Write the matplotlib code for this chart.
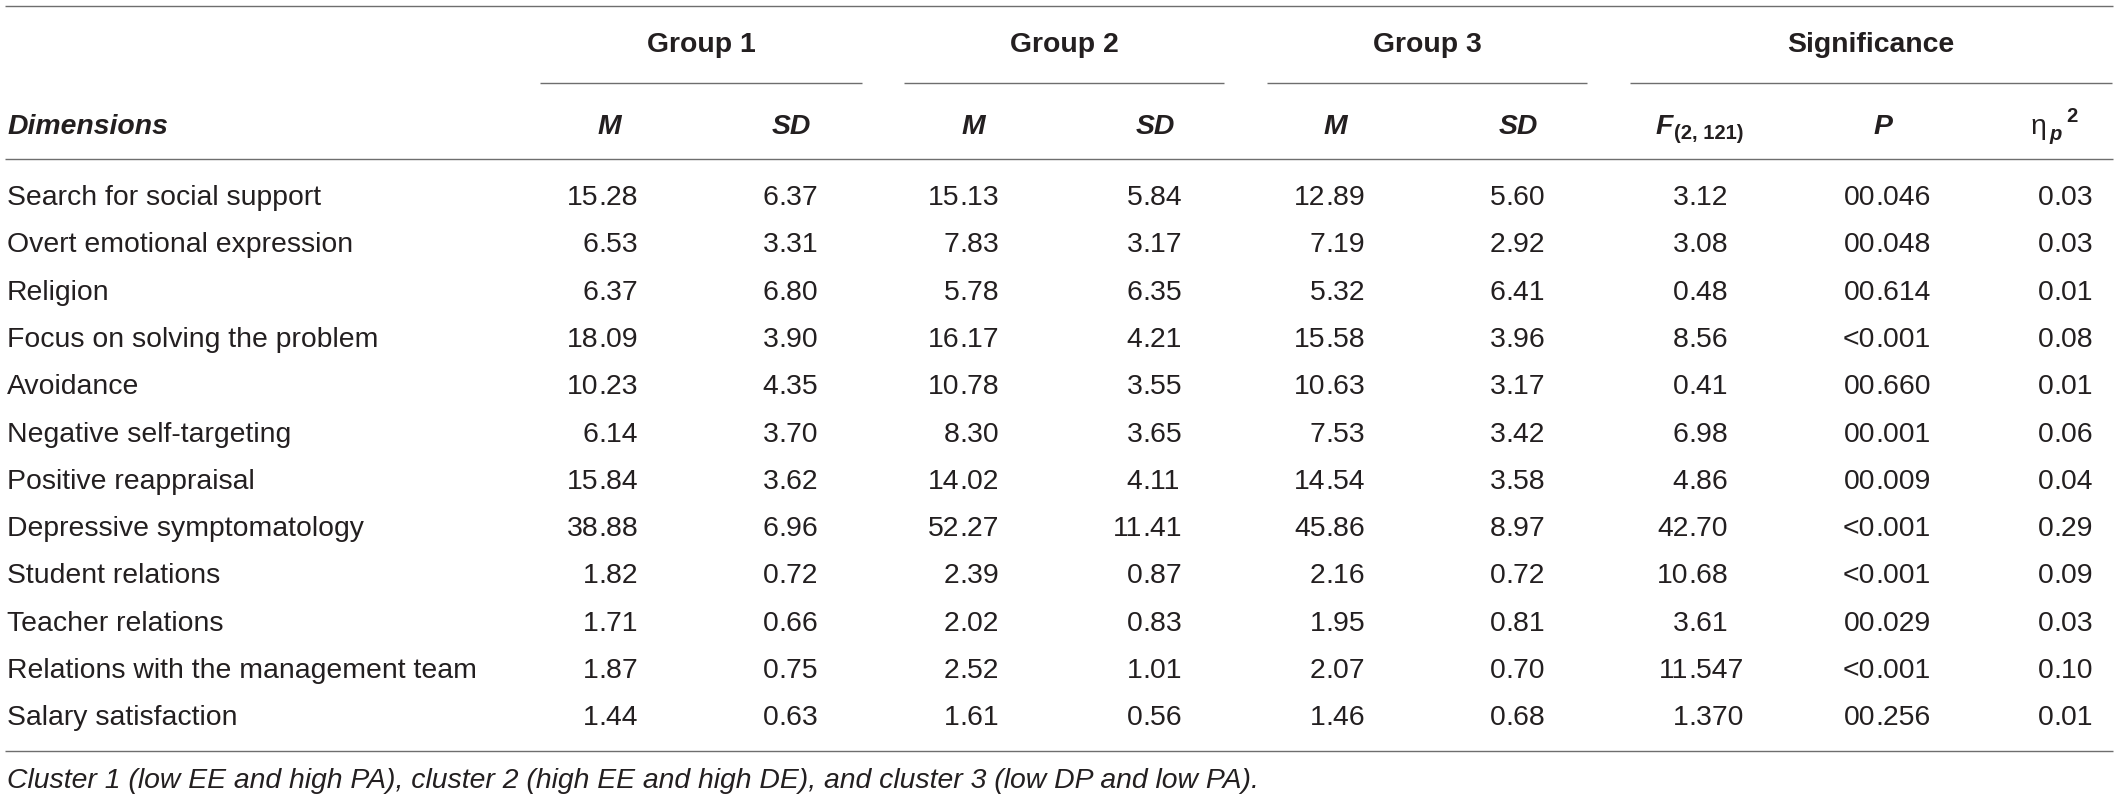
import matplotlib
matplotlib.use("Agg")
import matplotlib.pyplot as plt

# table content
dimensions = ["Search for social support", "Overt emotional expression", "Religion",
              "Focus on solving the problem", "Avoidance", "Negative self-targeting",
              "Positive reappraisal", "Depressive symptomatology", "Student relations",
              "Teacher relations", "Relations with the management team",
              "Salary satisfaction"]
g1_m = ["15.28", "6.53", "6.37", "18.09", "10.23", "6.14", "15.84", "38.88", "1.82", "1.71", "1.87", "1.44"]
g1_sd = ["6.37", "3.31", "6.80", "3.90", "4.35", "3.70", "3.62", "6.96", "0.72", "0.66", "0.75", "0.63"]
g2_m = ["15.13", "7.83", "5.78", "16.17", "10.78", "8.30", "14.02", "52.27", "2.39", "2.02", "2.52", "1.61"]
g2_sd = ["5.84", "3.17", "6.35", "4.21", "3.55", "3.65", "4.11", "11.41", "0.87", "0.83", "1.01", "0.56"]
g3_m = ["12.89", "7.19", "5.32", "15.58", "10.63", "7.53", "14.54", "45.86", "2.16", "1.95", "2.07", "1.46"]
g3_sd = ["5.60", "2.92", "6.41", "3.96", "3.17", "3.42", "3.58", "8.97", "0.72", "0.81", "0.70", "0.68"]
f_vals = ["3.12", "3.08", "0.48", "8.56", "0.41", "6.98", "4.86", "42.70", "10.68", "3.61", "11.547", "1.370"]
p_vals = ["00.046", "00.048", "00.614", "<0.001", "00.660", "00.001", "00.009", "<0.001", "<0.001", "00.029", "<0.001", "00.256"]
eta_vals = ["0.03", "0.03", "0.01", "0.08", "0.01", "0.06", "0.04", "0.29", "0.09", "0.03", "0.10", "0.01"]

groups = ["Group 1", "Group 2", "Group 3", "Significance"]
caption = ("Cluster 1 (low EE and high PA), cluster 2 (high EE and high DE), "
           "and cluster 3 (low DP and low PA).")

# layout (pixels)
W, H = 2118, 799
FS = 20.4
SUB = 14.5
TXT = "#231f20"
RULE = "#6e6e6e"

plt.rcParams["font.family"] = ["Liberation Sans", "DejaVu Sans"]

fig = plt.figure(figsize=(W / 100, H / 100), dpi=100)
ax = fig.add_axes([0, 0, 1, 1])
ax.set_xlim(0, W)
ax.set_ylim(H, 0)
ax.axis("off")

columns = [g1_m, g1_sd, g2_m, g2_sd, g3_m, g3_sd, f_vals, p_vals, eta_vals]
dec_x = [598.5, 778.5, 959.5, 1142.5, 1325.5, 1505.5, 1688.5, 1875, 2053.5]
head_x = [609, 791, 973, 1155, 1335, 1518]
spans = [(540, 862), (904, 1224), (1267, 1587), (1630, 2112)]

row0, row_step = 205, 47.3


def put_num(x, y, s):
    i = s.rfind(".")
    ax.text(x, y, s[:i], ha="right", va="baseline", fontsize=FS, color=TXT)
    ax.text(x, y, s[i:], ha="left", va="baseline", fontsize=FS, color=TXT)


# rules
for y in (5.5, 159, 751):
    ax.plot([5, 2113], [y, y], color=RULE, lw=1.0, solid_capstyle="butt")
for (a, b), name in zip(spans, groups):
    ax.plot([a, b], [83, 83], color=RULE, lw=1.0, solid_capstyle="butt")
    ax.text((a + b) / 2, 52, name, ha="center", va="baseline",
            fontsize=FS, fontweight="bold", color=TXT)

# column headers
hy = 134
ax.text(7, hy, "Dimensions", ha="left", va="baseline", fontsize=FS,
        fontweight="bold", fontstyle="italic", color=TXT)
for x, lab in zip(head_x, ["M", "SD"] * 3):
    ax.text(x, hy, lab, ha="center", va="baseline", fontsize=FS,
            fontweight="bold", fontstyle="italic", color=TXT)
ax.text(1655, hy, "F", ha="left", va="baseline", fontsize=FS,
        fontweight="bold", fontstyle="italic", color=TXT)
ax.text(1674, hy + 5, "(2, 121)", ha="left", va="baseline", fontsize=SUB,
        fontweight="bold", color=TXT)
ax.text(1883, hy, "P", ha="center", va="baseline", fontsize=FS,
        fontweight="bold", fontstyle="italic", color=TXT)
ax.text(2031, hy, "\u03b7", ha="left", va="baseline", fontsize=FS, color=TXT)
ax.text(2049, hy + 6, "p", ha="left", va="baseline", fontsize=SUB,
        fontweight="bold", fontstyle="italic", color=TXT)
ax.text(2066, hy - 12, "2", ha="left", va="baseline", fontsize=SUB,
        fontweight="bold", color=TXT)

# body
for i, name in enumerate(dimensions):
    y = row0 + i * row_step
    ax.text(7, y, name, ha="left", va="baseline", fontsize=FS, color=TXT)
    for x, col in zip(dec_x, columns):
        put_num(x, y, col[i])

ax.text(7, 788, caption, ha="left", va="baseline", fontsize=FS,
        fontstyle="italic", color=TXT)

fig.savefig("out.png", dpi=100, facecolor="white")
